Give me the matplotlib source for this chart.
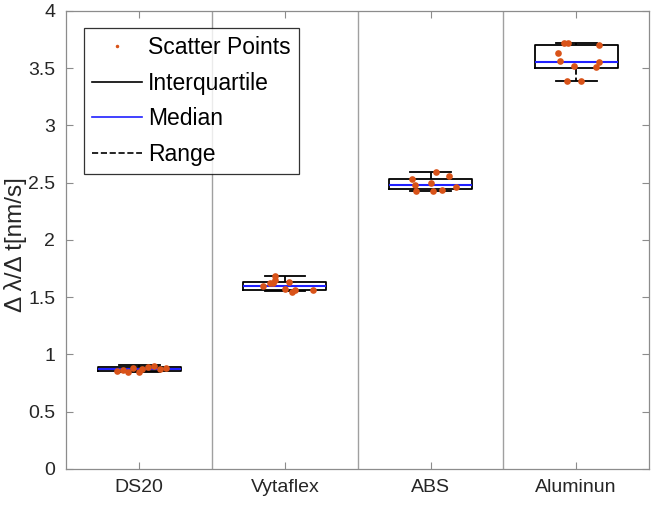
import matplotlib
matplotlib.use('Agg')
import matplotlib.pyplot as plt
from matplotlib.lines import Line2D

plt.rcParams['font.family'] = ['Liberation Sans', 'DejaVu Sans']

# categories and box statistics
categories = ['DS20', 'Vytaflex', 'ABS', 'Aluminun']
q1 = [0.855, 1.563, 2.443, 3.500]
med = [0.875, 1.601, 2.480, 3.552]
q3 = [0.895, 1.636, 2.533, 3.703]
whis_lo = [0.845, 1.554, 2.430, 3.390]
whis_hi = [0.905, 1.686, 2.597, 3.718]

# scatter points (value, horizontal jitter from category centre)
pts_ds20 = [0.86, 0.85, 0.88, 0.87, 0.89, 0.90, 0.87, 0.845, 0.88, 0.865]
jit_ds20 = [-0.15, -0.08, -0.04, 0.02, 0.06, 0.10, 0.14, 0.00, 0.18, -0.11]
pts_vyta = [1.686, 1.65, 1.62, 1.60, 1.62, 1.63, 1.572, 1.55, 1.563, 1.563]
jit_vyta = [-0.07, -0.07, -0.10, -0.15, -0.08, 0.03, 0.00, 0.05, 0.07, 0.19]
pts_abs = [2.597, 2.559, 2.533, 2.48, 2.50, 2.43, 2.43, 2.437, 2.46]
jit_abs = [0.04, 0.13, -0.125, -0.11, 0.00, -0.10, 0.02, 0.08, 0.175]
pts_alu = [3.718, 3.718, 3.703, 3.63, 3.563, 3.522, 3.552, 3.508, 3.39, 3.39]
jit_alu = [-0.087, -0.053, 0.158, -0.128, -0.11, -0.012, 0.158, 0.137, -0.064, 0.034]

yticks = [0, 0.5, 1, 1.5, 2, 2.5, 3, 3.5, 4]
ytick_labels = ['0', '0.5', '1', '1.5', '2', '2.5', '3', '3.5', '4']

axis_gray = '#8c8c8c'
text_col = '#262626'
pt_col = '#D95319'

fig = plt.figure(figsize=(6.53, 5.13), dpi=100)
ax = fig.add_axes([0.1018, 0.0858, 0.8921, 0.8928])

# separators between categories
for xs in [1.5, 2.5, 3.5]:
    ax.axvline(xs, color='#a0a0a0', lw=1.0, zorder=0)

stats = []
for i, c in enumerate(categories):
    stats.append(dict(label=c, q1=q1[i], med=med[i], q3=q3[i],
                      whislo=whis_lo[i], whishi=whis_hi[i], fliers=[]))

ax.bxp(stats, positions=[1, 2, 3, 4], widths=0.57, capwidths=0.28,
       showfliers=False, manage_ticks=False,
       boxprops=dict(color='black', lw=1.3),
       medianprops=dict(color='#2020ff', lw=1.5),
       whiskerprops=dict(color='black', lw=1.3, ls='--'),
       capprops=dict(color='black', lw=1.3), zorder=2)

all_pts = [pts_ds20, pts_vyta, pts_abs, pts_alu]
all_jit = [jit_ds20, jit_vyta, jit_abs, jit_alu]
for i, (p, j) in enumerate(zip(all_pts, all_jit)):
    ax.plot([i + 1 + d for d in j], p, 'o', color=pt_col, ms=4.8,
            mec='none', zorder=3)

ax.set_xlim(0.5, 4.5)
ax.set_ylim(0, 4)
ax.set_xticks([1, 2, 3, 4])
ax.set_xticklabels(categories)
ax.set_yticks(yticks)
ax.set_yticklabels(ytick_labels)
ax.tick_params(direction='in', length=5, width=0.8, colors=axis_gray,
               labelcolor=text_col, labelsize=14, top=True, right=True)
ax.tick_params(axis='y', pad=8)
ax.tick_params(axis='x', pad=7)
for s in ax.spines.values():
    s.set_color(axis_gray)
    s.set_linewidth(0.9)

ax.set_ylabel('Δ λ/Δ t[nm/s]', fontsize=17.5, color=text_col)
ax.yaxis.set_label_coords(-0.067, 0.49)

handles = [
    Line2D([], [], ls='none', marker='.', ms=3, color=pt_col),
    Line2D([], [], color='black', lw=1.2),
    Line2D([], [], color='#2020ff', lw=1.2),
    Line2D([], [], color='black', lw=1.2, ls='--'),
]
leg = ax.legend(handles, ['Scatter Points', 'Interquartile', 'Median', 'Range'],
                loc='upper left', fontsize=16.5, frameon=True, fancybox=False,
                handlelength=2.2, handletextpad=0.27, labelspacing=0.55,
                borderaxespad=0.75, borderpad=0.35)
leg.get_frame().set_edgecolor('black')
leg.get_frame().set_linewidth(0.9)
for t in leg.get_texts():
    t.set_color('black')

fig.savefig('out.png', dpi=100)
